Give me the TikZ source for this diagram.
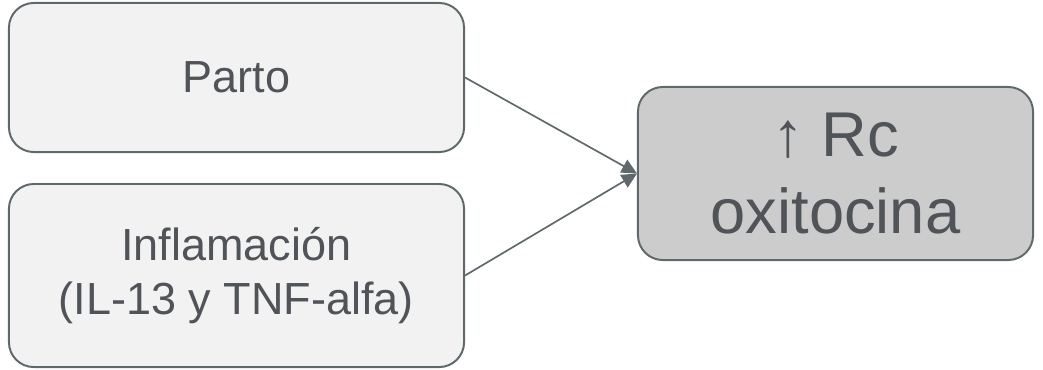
\documentclass[tikz,border=0pt]{standalone}
\usepackage{fontspec}
\setmainfont{Liberation Sans}
\usetikzlibrary{arrows.meta, positioning}
\definecolor{colCause}{RGB}{242,242,242}
\definecolor{colEffect}{RGB}{204,204,204}
\definecolor{colBorder}{RGB}{95,105,108}
\definecolor{colText}{RGB}{80,84,88}
\tikzset{
    causebox/.style={rectangle, draw=colBorder, fill=colCause, rounded corners=0.62cm, line width=1.4pt,
        minimum width=11.375cm, align=center, text=colText, font=\fontsize{32}{38}\selectfont},
    effectbox/.style={rectangle, draw=colBorder, fill=colEffect, rounded corners=0.62cm, line width=1.4pt,
        minimum width=9.875cm, minimum height=4.325cm, align=center, text=colText,
        font=\fontsize{45}{55}\selectfont},
    arrow/.style={-{Triangle[length=0.38cm, width=0.36cm]}, line width=1.2pt, draw=colBorder}
}

\begin{document}
\begin{tikzpicture}[x=0.025cm, y=-0.025cm]
    \useasboundingbox (0,0) rectangle (1043,369);

    \node[causebox, minimum height=3.725cm] (parto) at (236.5,77.5) {Parto};
    \node[causebox, minimum height=4.575cm, below=0.75cm of parto] (inflam) {Inflamación\\(IL-13 y TNF-alfa)};
    \node[effectbox] (receptor) at (835.5,173.5) {↑ Rc\\oxitocina};

    \draw[arrow] (parto.east) -- (receptor.west);
    \draw[arrow] (inflam.east) -- (receptor.west);

\end{tikzpicture}
\end{document}
